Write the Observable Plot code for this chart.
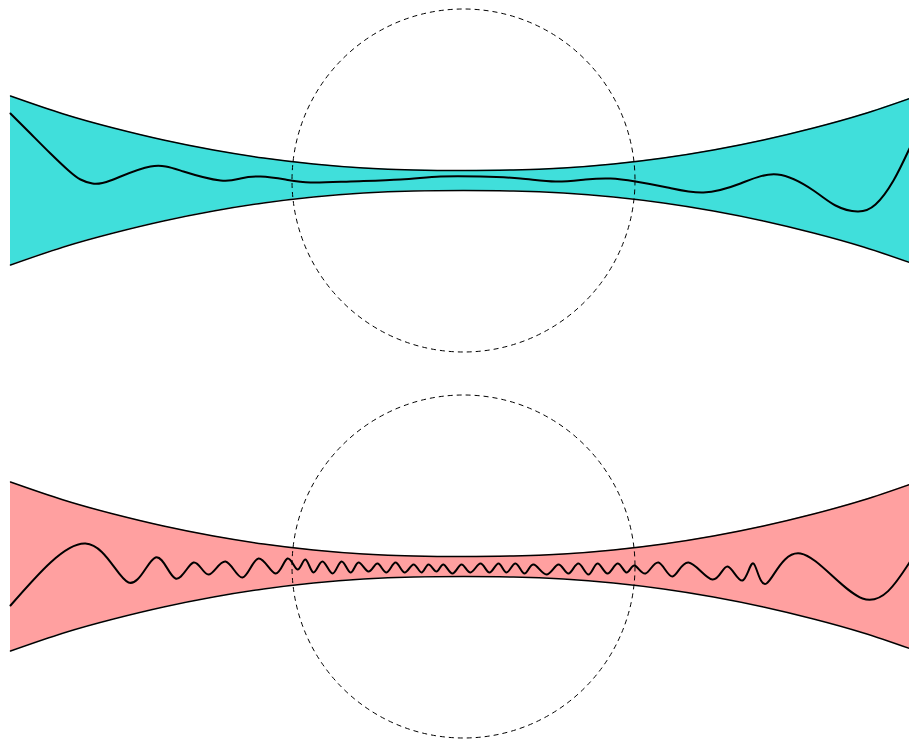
<!DOCTYPE html>
<html>
<head>
<meta charset="utf-8">
<script src="https://cdn.jsdelivr.net/npm/d3@7"></script>
<script src="https://cdn.jsdelivr.net/npm/@observablehq/plot@0.6"></script>
<style>
  html, body { margin: 0; padding: 0; background: #fff; }
  #chart svg { display: block; }
</style>
</head>
<body>
<div id="chart"></div>
<script>
// Envelope (beam half-width) sampled along the axis
const envX = [-4.53, -4.0, -3.5, -3.0, -2.5, -2.0, -1.5, -1.0, -0.5, 0, 0.5, 1.0, 1.5, 2.0, 2.5, 3.0, 3.5, 4.0, 4.46];
const envHalf = [8.45, 6.65, 5.25, 4.05, 3.05, 2.25, 1.65, 1.25, 1.05, 1.0, 1.05, 1.25, 1.65, 2.25, 3.05, 4.05, 5.25, 6.65, 8.2];

// Top panel wave (slow)
const waveTopX = [-4.53, -4.33, -4.13, -3.95, -3.83, -3.71, -3.53, -3.13, -2.80, -2.43, -2.23, -2.03, -1.78, -1.53, -1.13, -0.63, -0.23, 0.17, 0.57, 0.92, 1.22, 1.47, 1.72, 2.04, 2.40, 2.77, 3.14, 3.50, 3.72, 3.94, 4.12, 4.30, 4.46];
const waveTopY = [6.7, 4.7, 2.7, 1.0, 0.1, -0.3, 0.0, 1.4, 0.9, 0.0, 0.2, 0.4, 0.1, -0.2, -0.1, 0.1, 0.4, 0.4, 0.2, -0.1, 0.1, 0.2, -0.1, -0.7, -1.2, -0.3, 0.6, -1.0, -2.5, -3.1, -2.4, 0.0, 3.2];

// Bottom panel wave (fast, chirped)
const waveBotX = [-4.53, -3.78, -3.35, -3.08, -2.88, -2.70, -2.55, -2.38, -2.21, -2.05, -1.88, -1.76, -1.66, -1.58, -1.50, -1.41, -1.31, -1.22, -1.13, -1.05, -0.95, -0.86, -0.77, -0.68, -0.59, -0.50, -0.42, -0.35, -0.27, -0.20, -0.11, -0.02, 0.07, 0.17, 0.26, 0.35, 0.43, 0.52, 0.61, 0.70, 0.83, 0.95, 1.05, 1.15, 1.25, 1.34, 1.44, 1.54, 1.63, 1.71, 1.82, 1.95, 2.09, 2.25, 2.49, 2.64, 2.79, 2.90, 3.03, 3.37, 3.99, 4.46];
const waveBotY = [-3.9, 2.3, -1.6, 0.9, -1.2, 0.4, -0.8, 0.5, -1.1, 0.8, -0.7, 0.8, -0.3, 0.7, -0.6, 0.5, -0.7, 0.5, -0.6, 0.4, -0.5, 0.3, -0.6, 0.4, -0.6, 0.2, -0.6, 0.2, -0.5, 0.2, -0.7, 0.2, -0.6, 0.3, -0.6, 0.3, -0.6, 0.3, -0.7, 0.2, -0.8, 0.2, -0.7, 0.3, -0.8, 0.3, -0.7, 0.3, -0.6, 0.1, -0.7, 0.4, -1.0, 0.4, -1.3, 0.0, -1.4, 0.3, -1.7, 1.3, -3.2, 0.4];

// Circle (Rayleigh region marker) centre in data units
const circleCenter = [{x: 0, y: 0}];

const env = envX.map((x, i) => ({x, hi: envHalf[i], lo: -envHalf[i]}));
const waveTop = waveTopX.map((x, i) => ({x, y: waveTopY[i]}));
const waveBot = waveBotX.map((x, i) => ({x, y: waveBotY[i]}));

function panel(wave, fill, height, yDomain) {
  return Plot.plot({
    width: 909,
    height,
    marginLeft: 10, marginRight: 0, marginTop: 0, marginBottom: 0,
    x: {domain: [-4.53, 4.46], axis: null},
    y: {domain: yDomain, axis: null},
    marks: [
      Plot.areaY(env, {x: "x", y1: "lo", y2: "hi", fill, curve: "natural"}),
      Plot.line(env, {x: "x", y: "hi", stroke: "black", strokeWidth: 1.5, curve: "natural"}),
      Plot.line(env, {x: "x", y: "lo", stroke: "black", strokeWidth: 1.5, curve: "natural"}),
      Plot.line(wave, {x: "x", y: "y", stroke: "black", strokeWidth: 2, curve: "natural"}),
      Plot.dot(circleCenter, {x: "x", y: "y", r: 171.5, fill: "none", stroke: "black", strokeWidth: 1, strokeDasharray: "5,4"})
    ]
  });
}

const chart = document.getElementById("chart");
chart.append(panel(waveTop, "#40dfdb", 372, [-19.2, 18.0]));
chart.append(panel(waveBot, "#ffa0a0", 371, [-17.7, 19.4]));
</script>
</body>
</html>
